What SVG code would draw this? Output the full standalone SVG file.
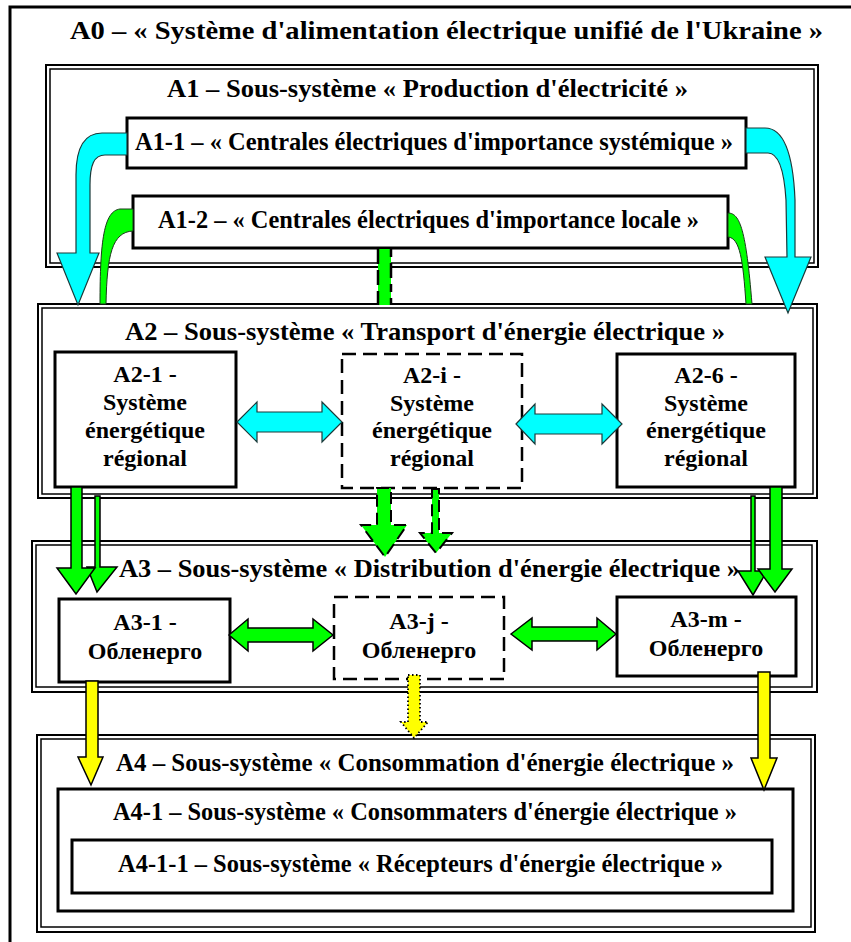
<svg xmlns="http://www.w3.org/2000/svg" width="851" height="942" viewBox="0 0 851 942">
<style>
text{font-family:"Liberation Serif","Times New Roman",serif;font-weight:bold;fill:#000}
.t{font-size:25px}
.b{font-size:24px;text-anchor:middle}
.fo{fill:none;stroke:#000;stroke-width:2}
.fi{fill:none;stroke:#000;stroke-width:1.5}
.box{fill:#fff;stroke:#000;stroke-width:3}
.dbox{fill:#fff;stroke:#000;stroke-width:2.5;stroke-dasharray:14 7}
.cy{fill:#00ffff;stroke:#1a3a3a;stroke-width:1.2}
.gr{fill:#00ff00;stroke:#000;stroke-width:1.5}
.grc{fill:#00ff00;stroke:#1a3a1a;stroke-width:1}
.grd{fill:#00ff00;stroke:#000;stroke-width:2;stroke-dasharray:12 6}
.ye{fill:#ffff00;stroke:#000;stroke-width:1.5}
.yed{fill:#ffff00;stroke:#000;stroke-width:1.8;stroke-dasharray:1.5 2.5}
</style>
<rect width="851" height="942" fill="#fff"/>

<g id="A0">
<rect x="10" y="7" width="870" height="960" fill="none" stroke="#000" stroke-width="3"/>
<text class="t" x="70" y="39" textLength="753" lengthAdjust="spacingAndGlyphs" font-size="26">A0 – « Système d'alimentation électrique unifié de l'Ukraine »</text>
</g>

<g id="A1">
<rect class="fo" x="46" y="65" width="772" height="202"/>
<rect class="fi" x="50" y="69" width="764" height="194"/>
<text class="t" x="167" y="97" textLength="521" lengthAdjust="spacingAndGlyphs">A1 – Sous-système « Production d'électricité »</text>
</g>

<g id="A2">
<rect class="fo" x="38" y="304" width="779" height="194"/>
<rect class="fi" x="42" y="308" width="771" height="186"/>
<text class="t" x="125" y="340" textLength="600" lengthAdjust="spacingAndGlyphs">A2 – Sous-système « Transport d'énergie électrique »</text>
</g>

<g id="A3">
<rect class="fo" x="32" y="541" width="785" height="151" stroke-width="2.5"/>
<rect class="fi" x="36" y="545" width="776" height="142"/>
<text class="t" x="119" y="577" textLength="621" lengthAdjust="spacingAndGlyphs">A3 – Sous-système « Distribution d'énergie électrique »</text>
</g>

<g id="A4">
<rect class="fo" x="37" y="735" width="778" height="197"/>
<rect class="fi" x="41" y="739" width="770" height="188"/>
<text class="t" x="116" y="771" textLength="618" lengthAdjust="spacingAndGlyphs">A4 – Sous-système « Consommation d'énergie électrique »</text>
</g>

<g id="A1-1">
<rect class="box" x="127" y="118" width="619" height="50"/>
<text class="t" x="135" y="150" textLength="598" lengthAdjust="spacingAndGlyphs" font-size="24">A1-1 – « Centrales électriques d'importance systémique »</text>
</g>

<g id="A1-2">
<rect class="box" x="133" y="196" width="595" height="52"/>
<text class="t" x="158" y="228" textLength="541" lengthAdjust="spacingAndGlyphs" font-size="24">A1-2 – « Centrales électriques d'importance locale »</text>
</g>

<g id="A2-1">
<rect class="box" x="55" y="352" width="181" height="135"/>
<text class="b" x="145" y="382">A2-1 -</text>
<text class="b" x="145" y="410">Système</text>
<text class="b" x="145" y="438">énergétique</text>
<text class="b" x="145" y="466">régional</text>
</g>

<g id="A2-i">
<rect class="dbox" x="342" y="354" width="180" height="134"/>
<text class="b" x="432" y="383">A2-i -</text>
<text class="b" x="432" y="411">Système</text>
<text class="b" x="432" y="438">énergétique</text>
<text class="b" x="432" y="466">régional</text>
</g>

<g id="A2-6">
<rect class="box" x="617" y="354" width="178" height="133"/>
<text class="b" x="706" y="383">A2-6 -</text>
<text class="b" x="706" y="411">Système</text>
<text class="b" x="706" y="438">énergétique</text>
<text class="b" x="706" y="466">régional</text>
</g>

<g id="A3-1">
<rect class="box" x="59" y="599" width="171" height="83"/>
<text class="b" x="145" y="630">A3-1 -</text>
<text class="b" x="145" y="659">Обленерго</text>
</g>

<g id="A3-j">
<rect class="dbox" x="334" y="597" width="170" height="82"/>
<text class="b" x="419" y="629">A3-j -</text>
<text class="b" x="419" y="658">Обленерго</text>
</g>

<g id="A3-m">
<rect class="box" x="617" y="597" width="179" height="79"/>
<text class="b" x="706" y="627">A3-m -</text>
<text class="b" x="706" y="656">Обленерго</text>
</g>

<g id="A4-1">
<rect class="box" x="58" y="789" width="735" height="122"/>
<text class="t" x="113" y="820" textLength="624" lengthAdjust="spacingAndGlyphs" font-size="24">A4-1 – Sous-système « Consommaters d'énergie électrique »</text>
</g>

<g id="A4-1-1">
<rect class="box" x="72" y="840" width="700" height="53"/>
<text class="t" x="118" y="872" textLength="605" lengthAdjust="spacingAndGlyphs" font-size="24">A4-1-1 – Sous-système « Récepteurs d'énergie électrique »</text>
</g>

<g id="connectors">
<!-- A1 -> A2 curved cyan -->
<path class="cy" d="M127,133 L102,133 C86,133 76,146 76,175 L76,253 L57,253 L78,305 L99,253 L90,253 L90,185 C90,165 94,155 105,155 L127,155 Z"/>
<path class="cy" d="M746,128 L765,128 C782,128 793,150 795,200 L795,257 L811,257 L788,313 L765,257 L787,257 L786,200 C784,168 778,153 768,153 L746,153 Z"/>
<!-- A1-2 -> A2 curved green -->
<path class="grc" d="M133,209 L120,209 C104,211 100,240 100,304 L106,304 C107,255 112,232 133,231 Z"/>
<path class="grc" d="M728,213 C740,213 746,230 752,304 L746,304 C743,260 740,238 728,237 Z"/>
<!-- A1-2 -> A2 dashed green -->
<rect x="378" y="249" width="13" height="56" fill="#00ff00"/>
<line x1="378" y1="249" x2="378" y2="305" stroke="#000" stroke-width="2.5" stroke-dasharray="15 6"/>
<line x1="391" y1="249" x2="391" y2="305" stroke="#000" stroke-width="2.5" stroke-dasharray="8 6 15 6"/>
<!-- A2 horizontal cyan double arrows -->
<polygon class="cy" points="237,422 257,402 257,412 322,412 322,402 342,422 322,442 322,432 257,432 257,442"/>
<polygon class="cy" points="516,424 535,404 535,414 602,414 602,404 622,424 602,444 602,434 535,434 535,444"/>
<!-- A2 -> A3 green -->
<polygon class="gr" points="95,496 100,496 100,567 117,567 97,592 87,567 95,567"/>
<polygon class="gr" points="71,487 82,487 82,568 95,568 76,594 57,568 71,568"/>
<polygon class="grd" points="377,488 391,488 391,525 407,525 385,557 361,525 377,525"/>
<polygon class="grd" points="432,489 439,489 439,533 452,533 436,553 420,533 432,533"/>
<polygon class="gr" points="751,496 755,496 755,571 767,571 753,595 738,571 751,571"/>
<polygon class="gr" points="770,487 782,487 782,569 792,569 775,592 758,569 770,569"/>
<!-- A3 horizontal green double arrows -->
<polygon class="gr" points="229,635 248,619 248,628 313,628 313,619 333,635 313,651 313,642 248,642 248,651"/>
<polygon class="gr" points="511,634 532,618 532,627 597,627 597,618 616,634 597,650 597,641 532,641 532,650"/>
<!-- A3 -> A4 yellow -->
<polygon class="ye" points="86,681 98,681 98,757 103,757 91,785 78,757 86,757"/>
<polygon class="yed" points="408,675 420,675 420,722 428,722 414,738 401,722 408,722"/>
<polygon class="ye" points="758,672 770,672 770,758 777,758 764,790 751,758 758,758"/>
</g>
</svg>
